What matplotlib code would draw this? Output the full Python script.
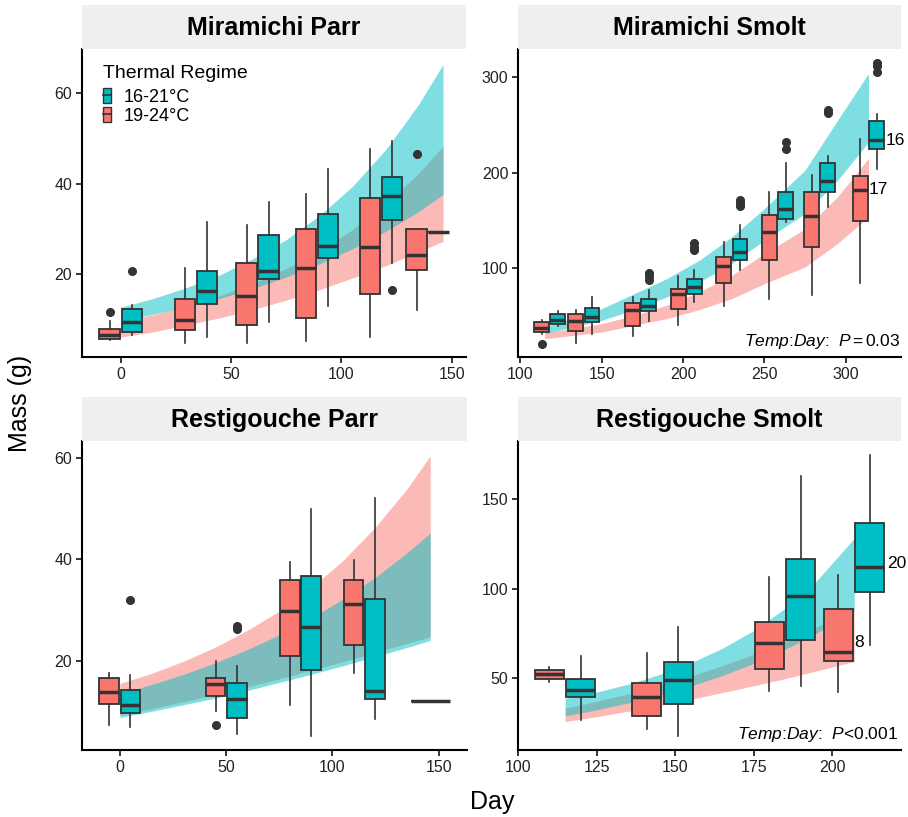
import matplotlib
matplotlib.use("Agg")
import matplotlib.pyplot as plt
from matplotlib.patches import Patch
from matplotlib.lines import Line2D

plt.rcParams['font.family'] = ['Liberation Sans', 'DejaVu Sans']
plt.rcParams['mathtext.fontset'] = 'custom'
plt.rcParams['mathtext.it'] = 'Liberation Sans:italic'
plt.rcParams['mathtext.rm'] = 'Liberation Sans'

COOL = '#00BFC4'   # 16-21°C
WARM = '#F8766D'   # 19-24°C
DARK = '#333333'

# ---- box summaries: lo, q1, median, q3, hi ----
# Miramichi Parr
mp_days = [0, 34, 62, 89, 118, 139]
mp_warm = [(5.4, 5.6, 6.4, 7.7, 9.6), (4.8, 7.6, 9.8, 14.5, 21.2), (4.6, 8.6, 15.2, 22.5, 30.8),
           (5.2, 10.3, 21.3, 30.0, 37.7), (6.1, 15.5, 25.9, 36.8, 47.6), (11.9, 20.9, 24.2, 29.9, 29.9)]
mp_warm_out = [[11.6], [], [], [], [], [46.6]]
mp_cool = [(6.5, 7.2, 9.4, 12.2, 13.1), (6.1, 13.3, 16.3, 20.7, 31.4), (9.3, 18.8, 20.7, 28.7, 35.9),
           (13.0, 23.5, 26.1, 33.3, 43.2), (22.5, 31.9, 37.3, 41.5, 49.5), (29.2, 29.2, 29.2, 29.2, 29.2)]
mp_cool_out = [[20.7], [], [], [], [16.5], []]

# Miramichi Smolt
ms_days = [118, 139, 174, 202, 230, 258, 284, 314]
ms_warm = [(31.0, 32.8, 37.3, 43.3, 45.0), (21.5, 33.5, 44.0, 51.7, 56.2), (28.9, 38.7, 55.5, 63.6, 69.5),
           (39.8, 56.9, 73.0, 78.3, 91.2), (60.1, 84.2, 101.8, 111.6, 127.7), (67.8, 108.1, 137.8, 155.3, 179.2),
           (71.3, 122.1, 154.3, 179.9, 197.4), (84.2, 149.0, 181.6, 196.3, 234.9)]
ms_warm_out = [[20.5], [], [], [], [], [], [], []]
ms_cool = [(38.7, 41.5, 45.7, 51.3, 54.8), (31.0, 43.3, 48.5, 58.3, 69.2), (44.0, 54.8, 60.1, 67.8, 76.5),
           (64.3, 73.0, 80.0, 88.8, 98.2), (97.5, 108.1, 116.8, 130.1, 144.5), (148.3, 151.5, 161.3, 179.9, 209.6),
           (164.1, 179.2, 191.4, 209.6, 217.3), (203.3, 224.7, 234.1, 254.1, 261.5)]
ms_cool_out = [[], [], [87.7, 91.0, 94.5], [118.6, 122.0, 126.3], [165.1, 168.0, 171.1],
               [224.3, 232.4], [262.2, 265.7], [305.3, 311.9, 315.4]]

# Restigouche Parr
rp_days = [0, 50, 85, 115, 146]
rp_warm = [(7.3, 11.4, 13.8, 16.6, 17.5), (10.0, 13.0, 15.4, 16.6, 19.9), (11.2, 21.0, 29.8, 36.0, 39.4),
           (17.5, 23.0, 31.2, 36.0, 39.8), None]
rp_warm_out = [[], [7.3], [], [], []]
rp_cool = [(6.9, 9.6, 11.2, 14.2, 17.2), (5.6, 8.6, 12.4, 15.5, 19.0), (5.2, 18.2, 26.7, 36.7, 49.9),
           (8.5, 12.4, 14.1, 32.1, 52.1), (12.1, 12.1, 12.1, 12.1, 12.1)]
rp_cool_out = [[31.9], [26.3, 26.9], [], [], []]

# Restigouche Smolt
rs_days = [115, 146, 185, 207]
rs_warm = [(47.8, 49.6, 52.2, 54.6, 56.5), (21.7, 29.2, 39.4, 47.2, 63.9), (43.1, 55.4, 69.9, 81.6, 106.3),
           (42.6, 59.7, 64.9, 88.5, 107.6)]
rs_warm_out = [[], [], [], []]
rs_cool = [(26.8, 39.8, 43.5, 49.8, 62.6), (18.0, 35.7, 49.1, 58.9, 78.4), (45.7, 71.4, 96.1, 116.4, 163.0),
           (68.6, 98.1, 112.3, 136.4, 174.5)]
rs_cool_out = [[], [], [], []]

# ---- model ribbons (edges read at a few days) ----
mp_rib_days = [0, 15, 30, 45, 60, 75, 90, 105, 120, 135, 146]
mp_cool_hi = [12.6, 14.6, 17.0, 19.8, 23.4, 27.6, 32.9, 39.4, 47.5, 57.6, 66.4]
mp_cool_lo = [9.6, 11.1, 12.7, 14.6, 16.8, 19.3, 22.2, 25.6, 29.4, 33.8, 37.6]
mp_warm_hi = [9.4, 11.0, 12.9, 15.2, 17.9, 21.2, 25.1, 29.8, 35.5, 42.3, 48.3]
mp_warm_lo = [6.0, 7.2, 8.7, 10.3, 12.1, 14.2, 16.5, 19.1, 21.8, 24.9, 27.2]

ms_rib_days = [115, 150, 170, 190, 210, 230, 250, 275, 295, 314]
ms_cool_hi = [38.0, 57.3, 73.0, 88.8, 108.0, 132.6, 162.3, 202.6, 255.0, 304.0]
ms_cool_lo = [31.0, 45.0, 56.2, 69.5, 85.3, 104.6, 129.0, 157.0, 192.0, 232.0]
ms_warm_hi = [31.7, 41.5, 50.3, 60.8, 74.8, 92.3, 115.0, 141.0, 174.6, 214.9]
ms_warm_lo = [25.7, 32.7, 39.8, 46.8, 56.2, 67.8, 83.5, 101.0, 125.6, 153.6]

rp_rib_days = [0, 15, 30, 45, 60, 75, 90, 105, 120, 135, 146]
rp_cool_hi = [13.5, 15.3, 17.3, 19.6, 22.2, 25.1, 28.4, 32.2, 36.4, 41.3, 45.2]
rp_cool_lo = [8.8, 10.0, 11.3, 12.6, 14.1, 15.7, 17.3, 19.0, 20.8, 22.6, 24.0]
rp_warm_hi = [15.5, 17.5, 19.9, 22.7, 26.0, 29.8, 34.4, 39.8, 46.3, 53.9, 60.5]
rp_warm_lo = [9.3, 10.5, 11.9, 13.3, 14.8, 16.4, 18.1, 19.8, 21.6, 23.4, 24.7]

rs_rib_days = [115, 125, 135, 145, 155, 165, 175, 185, 195, 207]
rs_cool_hi = [38.8, 42.3, 46.7, 52.1, 58.6, 66.7, 76.6, 89.0, 104.3, 128.0]
rs_cool_lo = [29.0, 32.4, 36.2, 40.6, 45.7, 51.5, 58.3, 66.1, 75.1, 88.0]
rs_warm_hi = [33.3, 37.1, 41.3, 46.0, 51.2, 57.0, 63.4, 70.6, 78.6, 89.4]
rs_warm_lo = [25.8, 28.6, 31.6, 34.9, 38.3, 42.0, 45.8, 49.8, 54.1, 59.3]

titles = ["Miramichi Parr", "Miramichi Smolt", "Restigouche Parr", "Restigouche Smolt"]


def stats(summ, out):
    lo, q1, med, q3, hi = summ
    return dict(whislo=lo, q1=q1, med=med, q3=q3, whishi=hi, fliers=out)


def draw_boxes(ax, days, warm, warm_out, cool, cool_out, w=9.2, off=5.0):
    for i, d in enumerate(days):
        for summ, out, col, sgn, other in ((warm[i], warm_out[i], WARM, -1, cool[i]),
                                           (cool[i], cool_out[i], COOL, 1, warm[i])):
            if summ is None:
                continue
            pos, width = (d + sgn * off, w) if other is not None else (d, 2 * w)
            ax.bxp([stats(summ, out)], positions=[pos], widths=width, patch_artist=True,
                   showcaps=False, manage_ticks=False,
                   boxprops=dict(facecolor=col, edgecolor=DARK, linewidth=1.3),
                   whiskerprops=dict(color=DARK, linewidth=1.2),
                   medianprops=dict(color=DARK, linewidth=2.5, solid_capstyle='butt'),
                   flierprops=dict(marker='o', markerfacecolor=DARK, markeredgecolor=DARK,
                                   markersize=5.5))


def draw_ribbons(ax, d, chi, clo, whi, wlo):
    ax.fill_between(d, wlo, whi, color=WARM, alpha=0.5, lw=0, zorder=0.5)
    ax.fill_between(d, clo, chi, color=COOL, alpha=0.5, lw=0, zorder=0.6)


W, H = 908, 817
fig = plt.figure(figsize=(W / 100, H / 100), dpi=100)

# pixel boxes: left, right, top, bottom
frames = [(82, 466, 49, 357), (518, 901, 49, 357), (82, 467, 441, 750), (518, 901, 441, 750)]
axes = []
for (l, r, t, b), title in zip(frames, titles):
    ax = fig.add_axes([l / W, 1 - b / H, (r - l) / W, (b - t) / H])
    st = fig.add_axes([l / W, 1 - t / H, (r - l) / W, 44 / H])
    st.set_facecolor('#efefef')
    st.set_xticks([]); st.set_yticks([])
    for s in st.spines.values():
        s.set_visible(False)
    st.text(0.5, 0.47, title, ha='center', va='center', fontsize=18, fontweight='bold')
    for s in ('top', 'right'):
        ax.spines[s].set_visible(False)
    for s in ('left', 'bottom'):
        ax.spines[s].set_linewidth(1.5)
    ax.tick_params(direction='out', length=4, width=1.1, labelsize=11.5, colors='black',
                   labelcolor='#222222', pad=3)
    axes.append(ax)

ax1, ax2, ax3, ax4 = axes

draw_ribbons(ax1, mp_rib_days, mp_cool_hi, mp_cool_lo, mp_warm_hi, mp_warm_lo)
draw_boxes(ax1, mp_days, mp_warm, mp_warm_out, mp_cool, mp_cool_out)
ax1.set_xlim(-17.5, 156.4); ax1.set_ylim(1.6, 69.8)
ax1.set_xticks([0, 50, 100, 150]); ax1.set_yticks([20, 40, 60])

draw_ribbons(ax2, ms_rib_days, ms_cool_hi, ms_cool_lo, ms_warm_hi, ms_warm_lo)
draw_boxes(ax2, ms_days, ms_warm, ms_warm_out, ms_cool, ms_cool_out)
ax2.set_xlim(98.5, 334); ax2.set_ylim(6.5, 329.7)
ax2.set_xticks([100, 150, 200, 250, 300]); ax2.set_yticks([100, 200, 300])
ax2.text(324.5, 234, "16", fontsize=12.5, va='center', ha='left')
ax2.text(314.3, 182, "17", fontsize=12.5, va='center', ha='left')
ax2.text(0.997, 0.05, r'$\mathit{Temp}$:$\mathit{Day}$:  $\mathit{P}$$\,$=$\,$0.03', transform=ax2.transAxes,
         ha='right', va='center', fontsize=12.5)

draw_ribbons(ax3, rp_rib_days, rp_cool_hi, rp_cool_lo, rp_warm_hi, rp_warm_lo)
draw_boxes(ax3, rp_days, rp_warm, rp_warm_out, rp_cool, rp_cool_out)
ax3.set_xlim(-17.8, 163.3); ax3.set_ylim(2.35, 63.4)
ax3.set_xticks([0, 50, 100, 150]); ax3.set_yticks([20, 40, 60])

draw_ribbons(ax4, rs_rib_days, rs_cool_hi, rs_cool_lo, rs_warm_hi, rs_warm_lo)
draw_boxes(ax4, rs_days, rs_warm, rs_warm_out, rs_cool, rs_cool_out)
ax4.set_xlim(100, 221.9); ax4.set_ylim(10, 182.3)
ax4.set_xticks([100, 125, 150, 175, 200]); ax4.set_yticks([50, 100, 150])
ax4.text(217.4, 114, "20", fontsize=12.5, va='center', ha='left')
ax4.text(207.0, 70, "8", fontsize=12.5, va='center', ha='left')
ax4.text(0.993, 0.05, r'$\mathit{Temp}$:$\mathit{Day}$:  $\mathit{P}$<0.001', transform=ax4.transAxes,
         ha='right', va='center', fontsize=12.5)

# legend: title as its own text, keys below it
ax1.text(0.055, 0.922, "Thermal Regime", transform=ax1.transAxes, fontsize=14,
         ha='left', va='center')
handles = [(Patch(facecolor=COOL, edgecolor=DARK, linewidth=1.0), Line2D([], [], color=DARK, lw=1.2)),
           (Patch(facecolor=WARM, edgecolor=DARK, linewidth=1.0), Line2D([], [], color=DARK, lw=1.2))]
ax1.legend(handles, ["16-21°C", "19-24°C"], loc='upper left',
           bbox_to_anchor=(0.055, 0.872), frameon=False, fontsize=13,
           handlelength=0.45, handleheight=0.9, handletextpad=0.7, labelspacing=0.05,
           borderaxespad=0.0, borderpad=0.0)

fig.text(492 / W, 1 - 802 / H, "Day", ha='center', va='center', fontsize=18)
fig.text(20 / W, 1 - 403 / H, "Mass (g)", ha='center', va='center', rotation=90, fontsize=18)

fig.savefig("out.png", dpi=100, facecolor='white')
